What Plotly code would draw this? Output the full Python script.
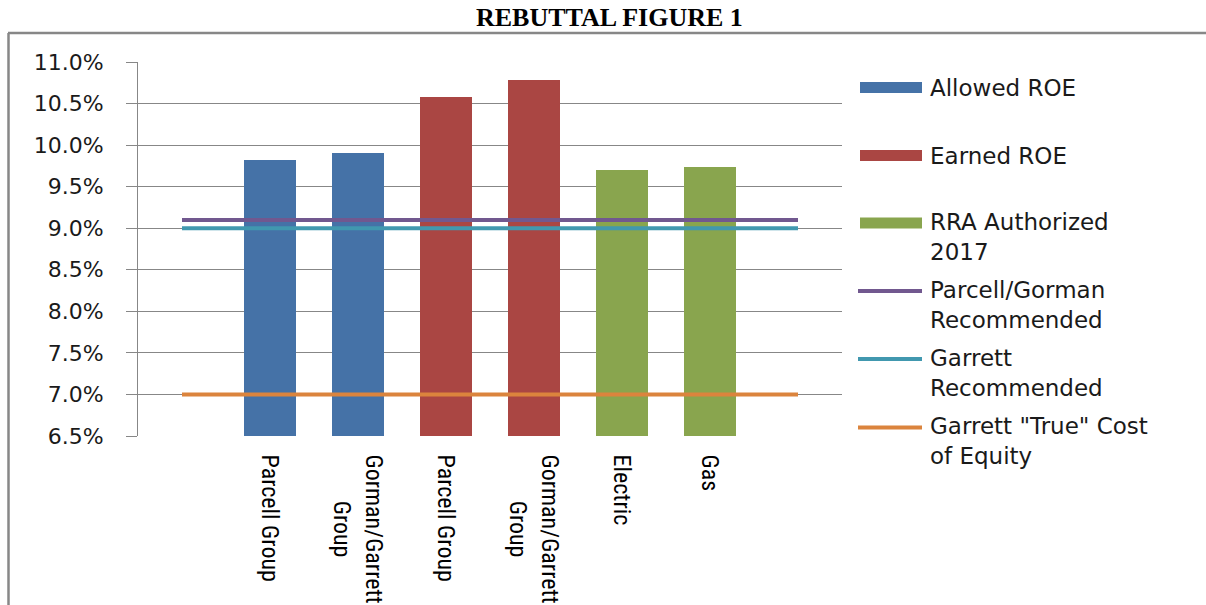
import plotly.graph_objects as go

# ---- data -------------------------------------------------------------
categories = ["", "Parcell Group", "Gorman/Garrett<br>Group", "Parcell Group",
              "Gorman/Garrett<br>Group", "Electric", "Gas", ""]
allowed_roe = [None, 9.82, 9.90, None, None, None, None, None]
earned_roe = [None, None, None, 10.58, 10.78, None, None, None]
rra_authorized = [None, None, None, None, None, 9.70, 9.74, None]
parcell_gorman_rec = [9.1] * 8
garrett_rec = [9.0] * 8
garrett_true_coe = [7.0] * 8
y_ticks = [6.5, 7.0, 7.5, 8.0, 8.5, 9.0, 9.5, 10.0, 10.5, 11.0]

# ---- styling ----------------------------------------------------------
W, H = 1206, 605
PL, PR, PT, PB = 138, 842, 62, 436   # plot area in pixels
GRID = "#878787"
BLUE, RED, GREEN = "#4572A7", "#AA4643", "#89A54E"
PURPLE, TEAL, ORANGE = "#71588F", "#4198AF", "#DB843D"
SANS = "DejaVu Sans, Verdana, sans-serif"
NARROW = "Liberation Sans Narrow, Arial Narrow, Roboto Condensed, sans-serif"

xpos = list(range(len(categories)))

fig = go.Figure()
for vals, col, name in [(allowed_roe, BLUE, "Allowed ROE"),
                        (earned_roe, RED, "Earned ROE"),
                        (rra_authorized, GREEN, "RRA Authorized 2017")]:
    fig.add_trace(go.Bar(x=xpos, y=vals, name=name, width=0.6,
                         marker=dict(color=col, line=dict(width=0)),
                         showlegend=False))

for vals, col, name in [(parcell_gorman_rec, PURPLE, "Parcell/Gorman Recommended"),
                        (garrett_rec, TEAL, "Garrett Recommended"),
                        (garrett_true_coe, ORANGE, 'Garrett "True" Cost of Equity')]:
    fig.add_trace(go.Scatter(x=xpos, y=vals, name=name, mode="lines",
                             line=dict(color=col, width=4), showlegend=False))


def px_x(p):
    return (p - PL) / (PR - PL)


def px_y(p):
    return (PB - p) / (PB - PT)


shapes = [
    # outer frame (top and left edges)
    dict(type="line", xref="paper", yref="paper", x0=px_x(8), x1=px_x(W + 5),
         y0=px_y(33), y1=px_y(33), line=dict(color=GRID, width=2.5)),
    dict(type="line", xref="paper", yref="paper", x0=px_x(8.5), x1=px_x(8.5),
         y0=px_y(33), y1=px_y(H + 5), line=dict(color=GRID, width=2.5)),
]
annotations = [
    dict(text="REBUTTAL FIGURE 1", xref="paper", yref="paper",
         x=px_x(609), y=px_y(18), xanchor="center", yanchor="middle",
         showarrow=False,
         font=dict(family="Liberation Serif, Times New Roman, serif",
                   size=26, color="#000000", weight="bold")),
]

# category labels under the bars, rotated to read downwards
for i, lab in enumerate(categories):
    if not lab:
        continue
    annotations.append(dict(text=lab, xref="x", yref="paper", x=i,
                            y=px_y(452), xanchor="center", yanchor="top",
                            textangle=90, align="center", showarrow=False,
                            font=dict(family=NARROW, size=24, color="#000000")))

# legend entries drawn at the right of the plot
legend_items = [
    ("bar", BLUE, "Allowed ROE", 87.5),
    ("bar", RED, "Earned ROE", 155.5),
    ("bar", GREEN, "RRA Authorized<br>2017", 236.5),
    ("line", PURPLE, "Parcell/Gorman<br>Recommended", 304.5),
    ("line", TEAL, "Garrett<br>Recommended", 372.5),
    ("line", ORANGE, 'Garrett "True" Cost<br>of Equity', 441),
]
for kind, col, label, yc in legend_items:
    n_lines = label.count("<br>") + 1
    ys = yc - (n_lines - 1) * 13.5   # centre of the first text line
    if kind == "bar":
        shapes.append(dict(type="rect", xref="paper", yref="paper",
                           x0=px_x(860), x1=px_x(922), y0=px_y(ys - 5.5),
                           y1=px_y(ys + 5.5), fillcolor=col, line=dict(width=0)))
    else:
        shapes.append(dict(type="line", xref="paper", yref="paper",
                           x0=px_x(858), x1=px_x(922), y0=px_y(ys), y1=px_y(ys),
                           line=dict(color=col, width=4)))
    annotations.append(dict(text=label, xref="paper", yref="paper",
                            x=px_x(928), y=px_y(yc), xanchor="left",
                            yanchor="middle", align="left", showarrow=False,
                            font=dict(family=SANS, size=23, color="#1a1a1a")))

fig.update_layout(
    width=W, height=H,
    margin=dict(l=PL, r=W - PR, t=PT, b=H - PB, pad=0, autoexpand=False),
    paper_bgcolor="white", plot_bgcolor="white",
    barmode="overlay", bargap=0,
    shapes=shapes, annotations=annotations,
    showlegend=False,
)
fig.update_xaxes(
    range=[-0.5, 7.5], showticklabels=False, automargin=False,
    showgrid=False, zeroline=False, showline=False, ticks="",
)
fig.update_yaxes(
    range=[6.5, 11.0], tickmode="array", tickvals=y_ticks,
    ticktext=[f"{v:.1f}%" for v in y_ticks], automargin=False,
    showgrid=True, gridcolor=GRID, gridwidth=1, zeroline=False,
    showline=True, linecolor=GRID, linewidth=1,
    ticks="outside", ticklen=11, tickcolor=GRID, tickwidth=1,
    ticklabelstandoff=18,
    tickfont=dict(family=SANS, size=22, color="#1a1a1a"),
)

fig.write_html("out.html")
